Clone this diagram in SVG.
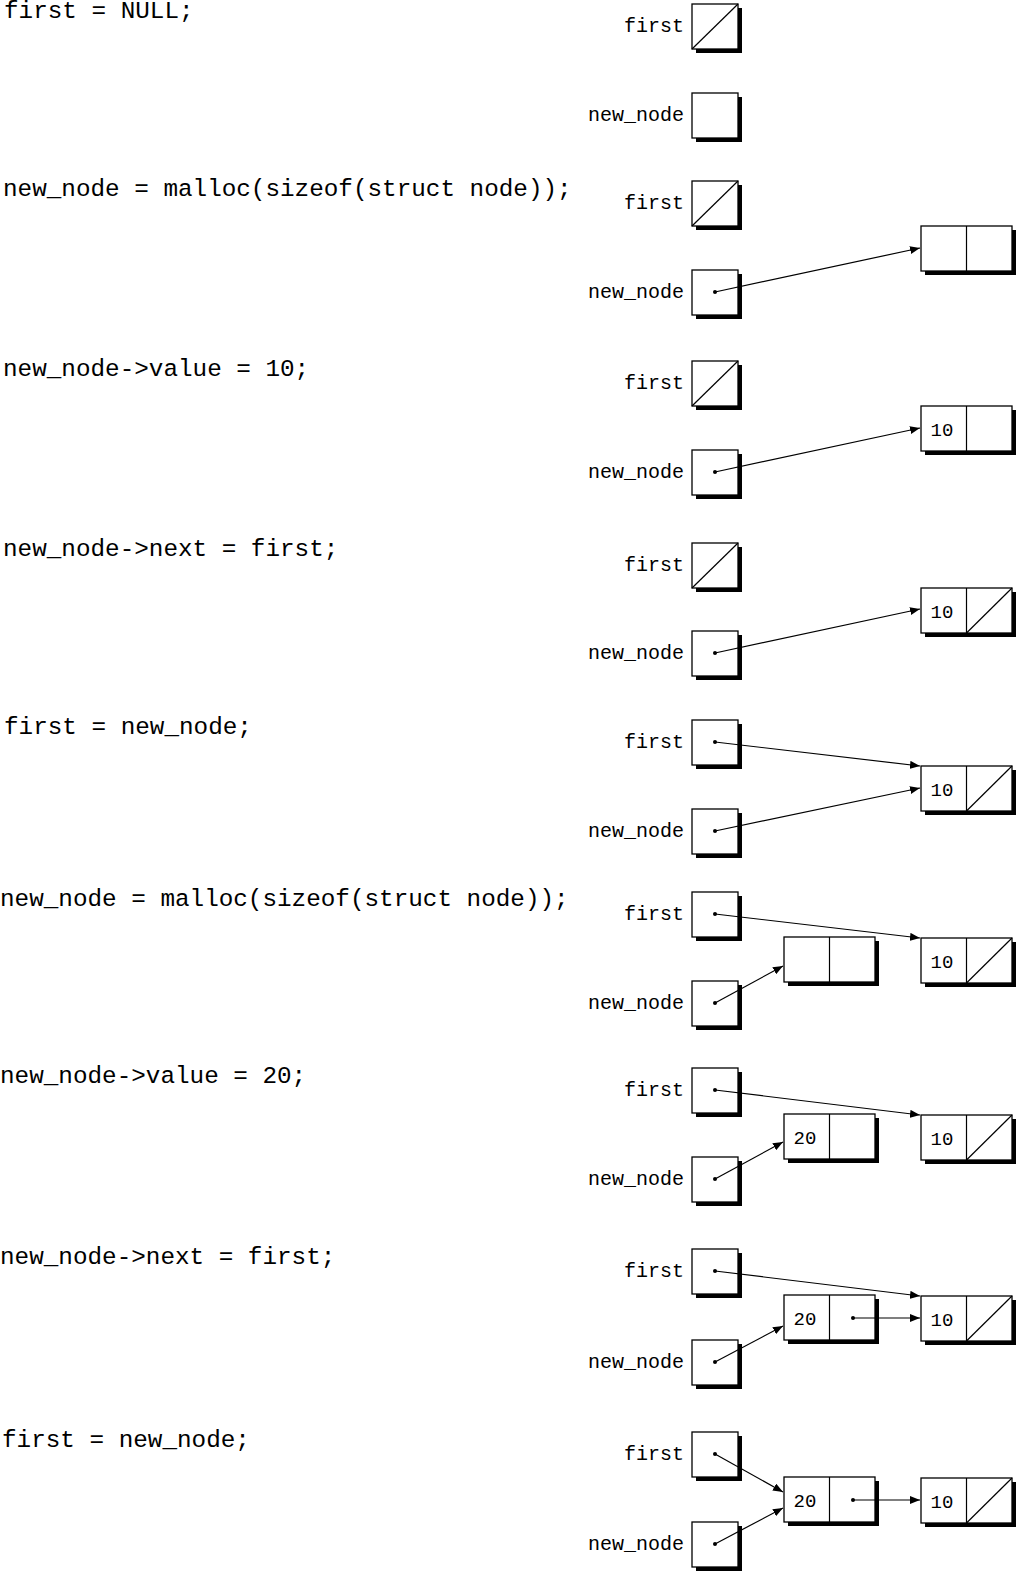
<svg xmlns="http://www.w3.org/2000/svg" width="1019" height="1572" viewBox="0 0 1019 1572">
<defs>
<style>
.code{font-family:"Liberation Mono","DejaVu Sans Mono",monospace;font-size:24.3px;fill:#000}
.lbl{font-family:"Liberation Mono","DejaVu Sans Mono",monospace;font-size:20px;fill:#000;text-anchor:end}
.val{font-family:"Liberation Mono","DejaVu Sans Mono",monospace;font-size:19px;fill:#000;text-anchor:middle}
.sh{fill:#000}
.bx{fill:#fff;stroke:#000;stroke-width:1.3}
.ln{stroke:#000;stroke-width:1.2;fill:none}
.arr{stroke:#000;stroke-width:1.2;fill:none;marker-end:url(#ah)}
.dot{fill:#000}
</style>
<marker id="ah" viewBox="0 0 10 8" refX="10" refY="4" markerWidth="10" markerHeight="8" markerUnits="userSpaceOnUse" orient="auto">
<path d="M0,0 L10,4 L0,8 z" fill="#000"/>
</marker>
<g id="sbox"><rect class="sh" x="4" y="4" width="46" height="45"/><rect class="bx" x="0" y="0" width="46" height="45"/></g>
<g id="nbox"><rect class="sh" x="4" y="4" width="91" height="45"/><rect class="bx" x="0" y="0" width="91" height="45"/><line class="ln" x1="45.5" y1="0" x2="45.5" y2="45"/></g>
</defs>
<rect width="1019" height="1572" fill="#fff"/>

<g id="code">
<text class="code" x="4" y="18">first = NULL;</text>
<text class="code" x="3" y="196">new_node = malloc(sizeof(struct node));</text>
<text class="code" x="3" y="376">new_node-&gt;value = 10;</text>
<text class="code" x="3" y="556">new_node-&gt;next = first;</text>
<text class="code" x="4" y="734">first = new_node;</text>
<text class="code" x="0" y="906">new_node = malloc(sizeof(struct node));</text>
<text class="code" x="0" y="1083">new_node-&gt;value = 20;</text>
<text class="code" x="0" y="1264">new_node-&gt;next = first;</text>
<text class="code" x="2" y="1447">first = new_node;</text>
</g>

<!-- Panel 1 -->
<g id="p1_first"><text class="lbl" x="684" y="32">first</text><use href="#sbox" x="692" y="4"/><line class="ln" x1="692" y1="49" x2="738" y2="4"/></g>
<g id="p1_new"><text class="lbl" x="684" y="121">new_node</text><use href="#sbox" x="692" y="93"/></g>

<!-- Panel 2 -->
<g id="p2_first"><text class="lbl" x="684" y="209">first</text><use href="#sbox" x="692" y="181"/><line class="ln" x1="692" y1="226" x2="738" y2="181"/></g>
<g id="p2_new"><text class="lbl" x="684" y="298">new_node</text><use href="#sbox" x="692" y="270"/><circle class="dot" cx="715" cy="292" r="2"/></g>
<g id="p2_node"><use href="#nbox" x="921" y="226"/></g>

<!-- Panel 3 -->
<g id="p3_first"><text class="lbl" x="684" y="389">first</text><use href="#sbox" x="692" y="361"/><line class="ln" x1="692" y1="406" x2="738" y2="361"/></g>
<g id="p3_new"><text class="lbl" x="684" y="478">new_node</text><use href="#sbox" x="692" y="450"/><circle class="dot" cx="715" cy="472" r="2"/></g>
<g id="p3_node"><use href="#nbox" x="921" y="406"/><text class="val" x="942" y="436">10</text></g>

<!-- Panel 4 -->
<g id="p4_first"><text class="lbl" x="684" y="571">first</text><use href="#sbox" x="692" y="543"/><line class="ln" x1="692" y1="588" x2="738" y2="543"/></g>
<g id="p4_new"><text class="lbl" x="684" y="659">new_node</text><use href="#sbox" x="692" y="631"/><circle class="dot" cx="715" cy="653" r="2"/></g>
<g id="p4_node"><use href="#nbox" x="921" y="588"/><text class="val" x="942" y="618">10</text><line class="ln" x1="966.5" y1="633" x2="1012" y2="588"/></g>

<!-- Panel 5 -->
<g id="p5_first"><text class="lbl" x="684" y="748">first</text><use href="#sbox" x="692" y="720"/><circle class="dot" cx="715" cy="742" r="2"/></g>
<g id="p5_new"><text class="lbl" x="684" y="837">new_node</text><use href="#sbox" x="692" y="809"/><circle class="dot" cx="715" cy="831" r="2"/></g>
<g id="p5_node"><use href="#nbox" x="921" y="766"/><text class="val" x="942" y="796">10</text><line class="ln" x1="966.5" y1="811" x2="1012" y2="766"/></g>

<!-- Panel 6 -->
<g id="p6_first"><text class="lbl" x="684" y="920">first</text><use href="#sbox" x="692" y="892"/><circle class="dot" cx="715" cy="914" r="2"/></g>
<g id="p6_new"><text class="lbl" x="684" y="1009">new_node</text><use href="#sbox" x="692" y="981"/><circle class="dot" cx="715" cy="1003" r="2"/></g>
<g id="p6_node_new"><use href="#nbox" x="784" y="937"/></g>
<g id="p6_node10"><use href="#nbox" x="921" y="938"/><text class="val" x="942" y="968">10</text><line class="ln" x1="966.5" y1="983" x2="1012" y2="938"/></g>

<!-- Panel 7 -->
<g id="p7_first"><text class="lbl" x="684" y="1096">first</text><use href="#sbox" x="692" y="1068"/><circle class="dot" cx="715" cy="1090" r="2"/></g>
<g id="p7_new"><text class="lbl" x="684" y="1185">new_node</text><use href="#sbox" x="692" y="1157"/><circle class="dot" cx="715" cy="1179" r="2"/></g>
<g id="p7_node20"><use href="#nbox" x="784" y="1114"/><text class="val" x="805" y="1144">20</text></g>
<g id="p7_node10"><use href="#nbox" x="921" y="1115"/><text class="val" x="942" y="1145">10</text><line class="ln" x1="966.5" y1="1160" x2="1012" y2="1115"/></g>

<!-- Panel 8 -->
<g id="p8_first"><text class="lbl" x="684" y="1277">first</text><use href="#sbox" x="692" y="1249"/><circle class="dot" cx="715" cy="1271" r="2"/></g>
<g id="p8_new"><text class="lbl" x="684" y="1368">new_node</text><use href="#sbox" x="692" y="1340"/><circle class="dot" cx="715" cy="1362" r="2"/></g>
<g id="p8_node20"><use href="#nbox" x="784" y="1295"/><text class="val" x="805" y="1325">20</text><circle class="dot" cx="853" cy="1318" r="2"/></g>
<g id="p8_node10"><use href="#nbox" x="921" y="1296"/><text class="val" x="942" y="1326">10</text><line class="ln" x1="966.5" y1="1341" x2="1012" y2="1296"/></g>

<!-- Panel 9 -->
<g id="p9_first"><text class="lbl" x="684" y="1460">first</text><use href="#sbox" x="692" y="1432"/><circle class="dot" cx="715" cy="1454" r="2"/></g>
<g id="p9_new"><text class="lbl" x="684" y="1550">new_node</text><use href="#sbox" x="692" y="1522"/><circle class="dot" cx="715" cy="1544" r="2"/></g>
<g id="p9_node20"><use href="#nbox" x="784" y="1477"/><text class="val" x="805" y="1507">20</text><circle class="dot" cx="853" cy="1500" r="2"/></g>
<g id="p9_node10"><use href="#nbox" x="921" y="1478"/><text class="val" x="942" y="1508">10</text><line class="ln" x1="966.5" y1="1523" x2="1012" y2="1478"/></g>

<g id="connectors">
<line class="arr" x1="715" y1="292" x2="920" y2="248"/>
<line class="arr" x1="715" y1="472" x2="920" y2="428"/>
<line class="arr" x1="715" y1="653" x2="920" y2="609"/>
<line class="arr" x1="715" y1="742" x2="920" y2="766"/>
<line class="arr" x1="715" y1="831" x2="920" y2="788"/>
<line class="arr" x1="715" y1="914" x2="920" y2="938"/>
<line class="arr" x1="715" y1="1003" x2="783" y2="966"/>
<line class="arr" x1="715" y1="1090" x2="920" y2="1115"/>
<line class="arr" x1="715" y1="1179" x2="783" y2="1142"/>
<line class="arr" x1="715" y1="1271" x2="920" y2="1296"/>
<line class="arr" x1="715" y1="1362" x2="783" y2="1326"/>
<line class="arr" x1="853" y1="1318" x2="920" y2="1318"/>
<line class="arr" x1="715" y1="1454" x2="783" y2="1492"/>
<line class="arr" x1="715" y1="1544" x2="783" y2="1508"/>
<line class="arr" x1="853" y1="1500" x2="920" y2="1500"/>
</g>
</svg>
